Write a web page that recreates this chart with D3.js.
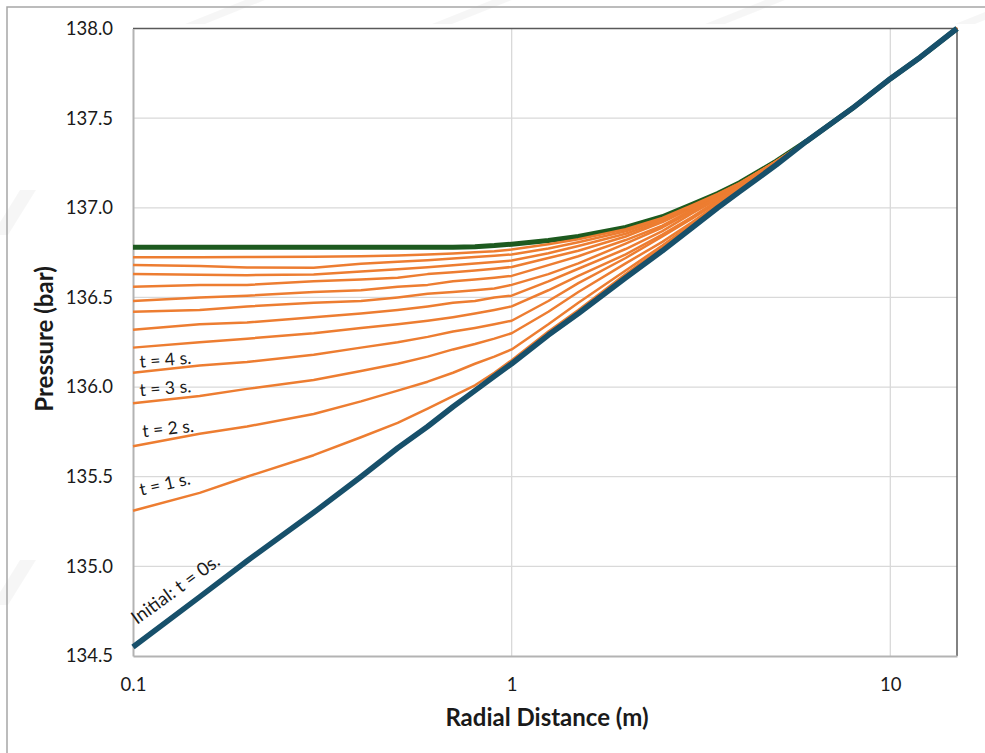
<!DOCTYPE html>
<html>
<head>
<meta charset="utf-8">
<script src="https://cdn.jsdelivr.net/npm/d3@7"></script>
<style>
  body { margin: 0; background: #fff; }
  svg { display: block; }
  text { font-family: Lato, "Noto Sans", sans-serif; fill: #1a1a1a; }
</style>
</head>
<body>
<svg id="chart" width="985" height="753"></svg>
<script>
// Radial positions (m)
const radius = [0.1, 0.15, 0.2, 0.3, 0.4, 0.5, 0.6, 0.7, 0.8, 0.9, 1, 1.25, 1.5, 2, 2.5, 3, 3.5, 4, 5, 6, 8, 10, 12, 15];

// Pressure profiles (bar)
const initial = [134.55, 134.83, 135.03, 135.30, 135.50, 135.66, 135.78, 135.89, 135.98, 136.06, 136.13, 136.29, 136.41, 136.61, 136.76, 136.89, 137.00, 137.09, 137.24, 137.37, 137.56, 137.72, 137.84, 138.00];
const finalState = [136.78, 136.78, 136.78, 136.78, 136.78, 136.78, 136.78, 136.78, 136.783, 136.789, 136.797, 136.818, 136.84, 136.89, 136.95, 137.02, 137.08, 137.14, 137.26, 137.37, 137.56, 137.72, 137.84, 138.00];

const t1  = [135.31, 135.41, 135.50, 135.62, 135.72, 135.80, 135.88, 135.95, 136.01, 136.08, 136.15, 136.31, 136.43, 136.63, 136.78, 136.90, 137.00, 137.09, 137.24, 137.37, 137.56, 137.72, 137.84, 138.00];
const t2  = [135.67, 135.74, 135.78, 135.85, 135.92, 135.98, 136.03, 136.08, 136.13, 136.17, 136.21, 136.35, 136.47, 136.65, 136.79, 136.91, 137.01, 137.09, 137.24, 137.37, 137.56, 137.72, 137.84, 138.00];
const t3  = [135.91, 135.95, 135.99, 136.04, 136.09, 136.13, 136.17, 136.21, 136.24, 136.27, 136.30, 136.42, 136.53, 136.69, 136.81, 136.92, 137.02, 137.10, 137.25, 137.37, 137.56, 137.72, 137.84, 138.00];
const t4  = [136.08, 136.12, 136.14, 136.18, 136.22, 136.25, 136.28, 136.31, 136.33, 136.35, 136.37, 136.48, 136.58, 136.72, 136.84, 136.94, 137.03, 137.11, 137.25, 137.37, 137.56, 137.72, 137.84, 138.00];
const t5  = [136.22, 136.25, 136.27, 136.30, 136.33, 136.35, 136.37, 136.39, 136.41, 136.43, 136.45, 136.54, 136.62, 136.74, 136.85, 136.95, 137.04, 137.11, 137.25, 137.37, 137.56, 137.72, 137.84, 138.00];
const t6  = [136.32, 136.35, 136.36, 136.39, 136.41, 136.43, 136.45, 136.47, 136.48, 136.50, 136.51, 136.59, 136.66, 136.77, 136.87, 136.97, 137.05, 137.12, 137.25, 137.37, 137.56, 137.72, 137.84, 138.00];
const t7  = [136.42, 136.43, 136.45, 136.47, 136.48, 136.50, 136.52, 136.53, 136.54, 136.55, 136.57, 136.63, 136.69, 136.80, 136.89, 136.98, 137.05, 137.12, 137.25, 137.37, 137.56, 137.72, 137.84, 138.00];
const t8  = [136.48, 136.50, 136.51, 136.53, 136.54, 136.56, 136.57, 136.59, 136.60, 136.61, 136.62, 136.68, 136.73, 136.82, 136.90, 136.99, 137.06, 137.13, 137.26, 137.37, 137.56, 137.72, 137.84, 138.00];
const t9  = [136.56, 136.57, 136.57, 136.59, 136.60, 136.61, 136.63, 136.64, 136.65, 136.66, 136.67, 136.72, 136.76, 136.84, 136.92, 137.00, 137.07, 137.13, 137.26, 137.37, 137.56, 137.72, 137.84, 138.00];
const t10 = [136.63, 136.627, 136.624, 136.628, 136.645, 136.657, 136.669, 136.679, 136.689, 136.698, 136.706, 136.746, 136.787, 136.855, 136.927, 137.004, 137.07, 137.133, 137.258, 137.37, 137.56, 137.72, 137.84, 138.00];
const t11 = [136.681, 136.675, 136.667, 136.665, 136.688, 136.699, 136.708, 136.717, 136.725, 136.733, 136.740, 136.773, 136.808, 136.869, 136.936, 137.01, 137.074, 137.136, 137.259, 137.37, 137.56, 137.72, 137.84, 138.00];
const t12 = [136.724, 136.724, 136.725, 136.727, 136.729, 136.734, 136.740, 136.745, 136.752, 136.758, 136.767, 136.797, 136.825, 136.88, 136.943, 137.015, 137.077, 137.138, 137.259, 137.37, 137.56, 137.72, 137.84, 138.00];

const transients = [t1, t2, t3, t4, t5, t6, t7, t8, t9, t10, t11, t12];

// Axis ticks and titles
const yTicks = [134.5, 135.0, 135.5, 136.0, 136.5, 137.0, 137.5, 138.0];
const xTicks = [0.1, 1, 10];
const xTitle = "Radial Distance (m)";
const yTitle = "Pressure (bar)";

// Curve annotations: series, text, offsets and tilt
const annotations = [
  { series: t1, text: "t = 1 s.", dx: 8, dy: -15, rot: -13, size: 17.5 },
  { series: t2, text: "t = 2 s.", dx: 10, dy: -9, rot: -6, size: 17.5 },
  { series: t3, text: "t = 3 s.", dx: 7, dy: -7, rot: -4.5, size: 17.5 },
  { series: t4, text: "t = 4 s.", dx: 7, dy: -5, rot: -4.5, size: 17.5 },
  { series: initial, text: "Initial: t = 0s.", dx: 4, dy: -22, rot: -36, size: 18.5 }
];

const svg = d3.select("#chart");
const W = 985, H = 753;
const plot = { left: 133, right: 957, top: 28.5, bottom: 656 };

// faint background streaks
const bg = svg.append("g").attr("fill", "#000").attr("fill-opacity", 0.035);
[[185, 0], [432, 0], [705, 0], [955, 0]].forEach(([sx, sy]) => {
  bg.append("path").attr("d", `M${sx + 60},${sy} L${sx + 80},${sy} L${sx + 20},${sy + 24} L${sx},${sy + 24} Z`);
});
[[0, 190], [0, 560]].forEach(([sx, sy]) => {
  bg.append("path").attr("d", `M${sx + 20},${sy} L${sx + 36},${sy} L${sx + 8},${sy + 45} L${sx - 8},${sy + 45} Z`);
});

// outer frame
svg.append("path")
  .attr("d", `M7,${H + 5} L7,7 L${W + 5},7`)
  .attr("fill", "none").attr("stroke", "#a6a6a6").attr("stroke-width", 1.5);

const x = d3.scaleLog().domain([0.1, 15]).range([plot.left, plot.right]);
const y = d3.scaleLinear().domain([134.5, 138]).range([plot.bottom, plot.top]);

// gridlines
const grid = svg.append("g").attr("stroke", "#d9d9d9").attr("stroke-width", 1.3);
yTicks.filter(v => v > 134.5 && v < 138).forEach(v => {
  grid.append("line").attr("x1", plot.left).attr("x2", plot.right).attr("y1", y(v)).attr("y2", y(v));
});
xTicks.filter(v => v > 0.1).forEach(v => {
  grid.append("line").attr("x1", x(v)).attr("x2", x(v)).attr("y1", plot.top).attr("y2", plot.bottom);
});

// plot frame: dark top/right, light axes left/bottom
svg.append("path")
  .attr("d", `M${plot.left},${plot.top} L${plot.right},${plot.top} L${plot.right},${plot.bottom}`)
  .attr("fill", "none").attr("stroke", "#595959").attr("stroke-width", 1.5);

// axes
const yAxis = d3.axisLeft(y).tickValues(yTicks).tickFormat(d3.format(".1f")).tickSize(0).tickPadding(20);
const gy = svg.append("g").attr("transform", `translate(${plot.left},0)`).call(yAxis);
gy.select(".domain").attr("stroke", "#b3b3b3").attr("stroke-width", 2);
gy.selectAll("text").attr("font-size", 18.5).attr("font-family", 'Lato, "Noto Sans", sans-serif').attr("fill", "#1a1a1a");

const xAxis = d3.axisBottom(x).tickValues(xTicks).tickFormat(d => d3.format("~g")(d)).tickSize(0).tickPadding(22);
const gx = svg.append("g").attr("transform", `translate(0,${plot.bottom})`).call(xAxis);
gx.select(".domain").attr("stroke", "#b3b3b3").attr("stroke-width", 2);
gx.selectAll("text").attr("font-size", 18.5).attr("font-family", 'Lato, "Noto Sans", sans-serif').attr("fill", "#1a1a1a");

// axis titles
svg.append("text")
  .attr("x", 547).attr("y", 726)
  .attr("text-anchor", "middle").attr("font-weight", "bold").attr("font-size", 24)
  .text(xTitle);
svg.append("text")
  .attr("transform", `translate(53,339) rotate(-90)`)
  .attr("text-anchor", "middle").attr("font-weight", "bold").attr("font-size", 24)
  .text(yTitle);

// curves
const line = d3.line().x((d, i) => x(radius[i])).y(d => y(d));
const curves = svg.append("g").attr("fill", "none").attr("stroke-linejoin", "round");

curves.append("path").datum(finalState).attr("d", line)
  .attr("stroke", "#1d5a1f").attr("stroke-width", 5);

transients.forEach(s => {
  curves.append("path").datum(s).attr("d", line)
    .attr("stroke", "#ed7d31").attr("stroke-width", 2.5);
});

curves.append("path").datum(initial).attr("d", line)
  .attr("stroke", "#17506b").attr("stroke-width", 5.5);

// curve labels
annotations.forEach(a => {
  const ax = x(radius[0]) + a.dx, ay = y(a.series[0]) + a.dy;
  svg.append("text")
    .attr("transform", `translate(${ax},${ay}) rotate(${a.rot})`)
    .attr("font-size", a.size)
    .text(a.text);
});
</script>
</body>
</html>
